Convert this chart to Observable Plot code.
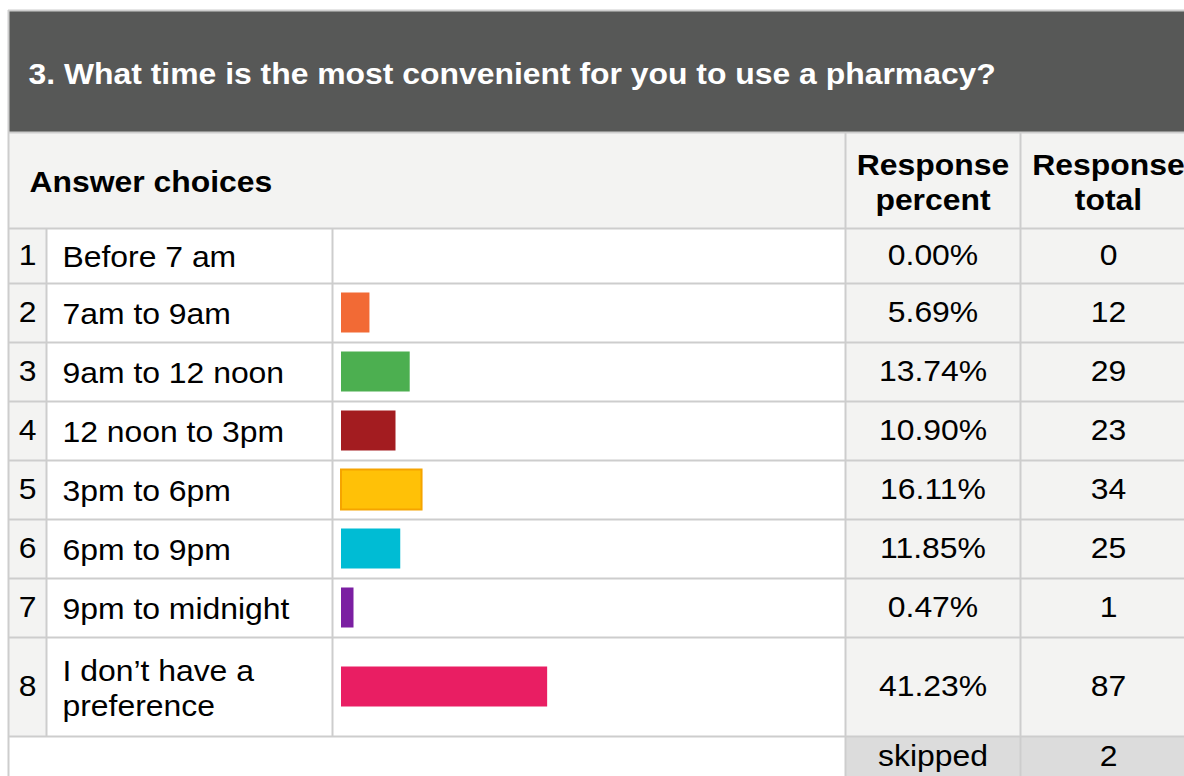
<!DOCTYPE html>
<html><head><meta charset="utf-8">
<script src="https://cdn.jsdelivr.net/npm/d3@7"></script>
<script src="https://cdn.jsdelivr.net/npm/@observablehq/plot@0.6"></script>
<style>html,body{margin:0;padding:0;background:#fff;overflow:hidden}</style>
</head><body><div id="chart"></div>
<script>
// ---- data ----
const title = "3. What time is the most convenient for you to use a pharmacy?";
const headerLabels = ["Answer choices", "Response\npercent", "Response\ntotal"];
const rowNumbers = [1, 2, 3, 4, 5, 6, 7, 8];
const choices = ["Before 7 am", "7am to 9am", "9am to 12 noon", "12 noon to 3pm", "3pm to 6pm", "6pm to 9pm", "9pm to midnight", "I don\u2019t have a\npreference"];
const percents = [0.00, 5.69, 13.74, 10.90, 16.11, 11.85, 0.47, 41.23];
const totals = [0, 12, 29, 23, 34, 25, 1, 87];
const barColors = ["#ffffff", "#f26a35", "#4caf50", "#a31c20", "#ffc107", "#00bcd4", "#7b1fa2", "#e91e63"];
const skippedLabel = "skipped";
const skippedCount = 2;

// ---- layout (pixels) ----
const W = 1184, H = 776;
const BAR0 = 341, PX_PER_PCT = 5;          // 0% position and scale of the bar column
const px = v => (v - BAR0) / PX_PER_PCT;    // pixel -> x-scale units (percent)
const C = {left: 8, idx: 46, label: 332, pct: 845, tot: 1020, right: 1190};
const titleTop = 10, headTop = 132, bodyTop = 228;
const rowBounds = [228, 283, 342, 401, 460, 519, 578, 637, 736];
const skipBottom = 790;
const FONT = "'Liberation Sans', Arial, sans-serif";
const FS = 29;
const STRETCH = 1.1;
const GRID = "#cdcdcd";

const rows = rowNumbers.map((n, i) => ({
  n, label: choices[i], pct: percents[i], total: totals[i], color: barColors[i],
  top: rowBounds[i], bottom: rowBounds[i + 1], mid: (rowBounds[i] + rowBounds[i + 1]) / 2
}));

const cells = [];
rows.forEach(r => {
  cells.push({x1: C.left, x2: C.idx, y1: r.top, y2: r.bottom, fill: "#f3f3f2"});
  cells.push({x1: C.idx, x2: C.label, y1: r.top, y2: r.bottom, fill: "#ffffff"});
  cells.push({x1: C.label, x2: C.pct, y1: r.top, y2: r.bottom, fill: "#ffffff"});
  cells.push({x1: C.pct, x2: C.tot, y1: r.top, y2: r.bottom, fill: "#f3f3f2"});
  cells.push({x1: C.tot, x2: C.right, y1: r.top, y2: r.bottom, fill: "#f3f3f2"});
});
const hLines = [headTop, ...rowBounds].map(y => ({y, x1: C.left, x2: C.right}));
const vLines = [
  {x: C.pct, y1: headTop, y2: skipBottom},
  {x: C.tot, y1: headTop, y2: skipBottom},
  {x: C.idx, y1: bodyTop, y2: rowBounds[8]},
  {x: C.label, y1: bodyTop, y2: rowBounds[8]},
  {x: C.left, y1: titleTop, y2: skipBottom}
];

const chart = Plot.plot({
  width: W, height: H,
  margin: 0,
  x: {domain: [px(0), px(W)], range: [0, W], axis: null},
  y: {domain: [0, H], range: [0, H], axis: null},
  style: {fontFamily: FONT, background: "#fff"},
  marks: [
    // title band
    Plot.rect([{}], {x1: px(C.left), x2: px(C.right), y1: titleTop, y2: headTop, fill: "#575857"}),
    Plot.ruleY([titleTop], {x1: px(C.left), x2: px(C.right), stroke: GRID, strokeWidth: 2}),
    Plot.text([title], {x: px(28), y: (titleTop + headTop) / 2 + 3, text: d => d, textAnchor: "start",
      fill: "#ffffff", fontWeight: "bold", fontSize: FS}),
    // header band
    Plot.rect([{}], {x1: px(C.left), x2: px(C.right), y1: headTop, y2: bodyTop, fill: "#f3f3f2"}),
    Plot.text([headerLabels[0]], {x: px(29), y: (headTop + bodyTop) / 2 + 2, text: d => d, textAnchor: "start",
      fill: "#000", fontWeight: "bold", fontSize: FS}),
    Plot.text([headerLabels[1]], {x: px((C.pct + C.tot) / 2), y: (headTop + bodyTop) / 2 + 1, text: d => d,
      fill: "#000", fontWeight: "bold", fontSize: FS, lineHeight: 1.2}),
    Plot.text([headerLabels[2]], {x: px(1108), y: (headTop + bodyTop) / 2 + 1, text: d => d,
      fill: "#000", fontWeight: "bold", fontSize: FS, lineHeight: 1.2}),
    // body cells
    Plot.rect(cells, {x1: d => px(d.x1), x2: d => px(d.x2), y1: "y1", y2: "y2", fill: "fill"}),
    // skipped row
    Plot.rect([{}], {x1: px(C.pct), x2: px(C.right), y1: rowBounds[8], y2: skipBottom, fill: "#dcdcdc"}),
    // grid
    Plot.ruleY(hLines, {y: "y", x1: d => px(d.x1), x2: d => px(d.x2), stroke: GRID, strokeWidth: 2}),
    Plot.ruleX(vLines, {x: d => px(d.x), y1: "y1", y2: "y2", stroke: GRID, strokeWidth: 2}),
    // bars (percent through the x scale)
    Plot.rect(rows.filter(r => r.pct > 0), {
      x1: 0, x2: r => Math.max(r.pct, 2.5),
      y1: r => r.mid - 20, y2: r => r.mid + 20,
      fill: "color", stroke: r => r.color === "#ffc107" ? "#f5a400" : "none", strokeWidth: 2
    }),
    // text
    Plot.text(rows, {x: px((C.left + C.idx) / 2), y: "mid", text: "n", fill: "#000", fontSize: FS}),
    Plot.text(rows, {x: px(62), y: "mid", text: "label", textAnchor: "start", fill: "#000", fontSize: FS, lineHeight: 1.2}),
    Plot.text(rows, {x: px((C.pct + C.tot) / 2), y: "mid", text: r => r.pct.toFixed(2) + "%", fill: "#000", fontSize: FS}),
    Plot.text(rows, {x: px(1108), y: "mid", text: r => String(r.total), fill: "#000", fontSize: FS}),
    Plot.text([skippedLabel], {x: px((C.pct + C.tot) / 2), y: 756, text: d => d, fill: "#000", fontSize: FS}),
    Plot.text([skippedCount], {x: px(1108), y: 756, text: d => String(d), fill: "#000", fontSize: FS})
  ]
});
// widen the glyphs horizontally, as in the reference rendering
chart.querySelectorAll("text").forEach(t => {
  let tr = t.getAttribute("transform");
  if (!tr) {
    const x = +t.getAttribute("x") || 0, y = +t.getAttribute("y") || 0;
    t.removeAttribute("x"); t.removeAttribute("y");
    tr = `translate(${x},${y})`;
  }
  t.setAttribute("transform", `${tr} scale(${STRETCH},1)`);
});
document.getElementById("chart").appendChild(chart);
</script>
</body></html>
